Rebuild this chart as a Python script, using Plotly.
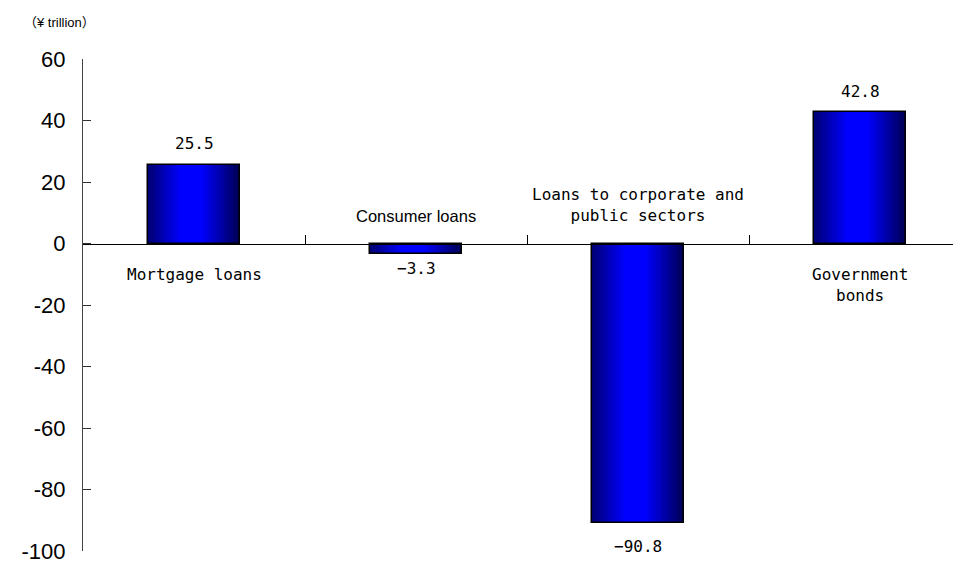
import plotly.graph_objects as go

categories = ["Mortgage loans", "Consumer loans", "Loans to corporate and<br>public sectors", "Government<br>bonds"]
values = [25.5, -3.3, -90.8, 42.8]
value_labels = ["25.5", "−3.3", "−90.8", "42.8"]
y_tickvals = [60, 40, 20, 0, -20, -40, -60, -80, -100]
y_ticktext = ["60", "40", "20", "0", "-20", "-40", "-60", "-80", "-100"]
unit_label = "（¥ trillion）"

# style settings
BAR_W = 0.414
N_SLICES = 40
MONO = "DejaVu Sans Mono"
SANS = "Liberation Sans, Arial"
cat_fonts = [MONO, SANS, MONO, MONO]
cat_sizes = [16, 16.5, 16, 16]
value_shift = [22, -15, -24, 20]

x = list(range(len(categories)))


def shade(t):
    peak_l, peak_r = 0.36, 0.58
    lo_l, lo_r = 0.45, 0.32
    if t < peak_l:
        b = lo_l + (1 - lo_l) * (t / peak_l)
    elif t <= peak_r:
        b = 1.0
    else:
        b = 1.0 - (1 - lo_r) * ((t - peak_r) / (1 - peak_r))
    return f"rgb(0,0,{int(round(255 * b))})"


fig = go.Figure()
sw = BAR_W / N_SLICES
for i in range(N_SLICES):
    t = (i + 0.5) / N_SLICES
    fig.add_trace(go.Bar(
        x=x, y=values, width=sw * 1.05, offset=-BAR_W / 2 + i * sw,
        marker=dict(color=shade(t), line=dict(width=0)),
        hoverinfo="skip", showlegend=False,
    ))
# outline
fig.add_trace(go.Bar(
    x=x, y=values, width=BAR_W, offset=-BAR_W / 2,
    marker=dict(color="rgba(0,0,0,0)", line=dict(color="black", width=1.5)),
    showlegend=False,
))

# value labels
for xi, v, lab, sh in zip(x, values, value_labels, value_shift):
    fig.add_annotation(x=xi, y=v, text=lab, showarrow=False,
                       yshift=sh, font=dict(family=MONO, size=16, color="black"))

# category labels: below zero for positive bars, above zero for negative bars
for xi, v, cat, fam, fs in zip(x, values, categories, cat_fonts, cat_sizes):
    if v >= 0:
        fig.add_annotation(x=xi, y=0, text=cat, showarrow=False, yanchor="top",
                           yshift=-19, font=dict(family=fam, size=fs, color="black"))
    else:
        fig.add_annotation(x=xi, y=0, text=cat, showarrow=False, yanchor="bottom",
                           yshift=17, font=dict(family=fam, size=fs, color="black"))

fig.add_annotation(xref="paper", yref="paper", x=-0.069, y=1.0, yshift=37,
                   text=unit_label, showarrow=False, xanchor="left", yanchor="middle",
                   font=dict(family="Liberation Sans, Noto Sans CJK JP", size=13, color="black"))

fig.update_layout(
    width=961, height=563,
    margin=dict(l=75, r=0, t=51, b=20),
    plot_bgcolor="white", paper_bgcolor="white",
    barmode="overlay", bargap=0,
    showlegend=False,
    xaxis=dict(
        range=[-0.5, 3.491], tickvals=[0.5, 1.5, 2.5], showticklabels=False,
        ticks="inside", ticklen=9, tickcolor="black", tickwidth=1,
        showline=True, linecolor="black", linewidth=1,
        showgrid=False, zeroline=False,
        anchor="free", position=100 / 160,
    ),
    yaxis=dict(
        range=[-100, 60], tickvals=y_tickvals, ticktext=y_ticktext,
        ticks="inside", ticklen=8, tickcolor="#333333", tickwidth=1,
        showline=True, linecolor="#444444", linewidth=1,
        showgrid=False, zeroline=False,
        tickfont=dict(family=SANS, size=22, color="black"),
        ticklabelstandoff=12,
    ),
)

fig.write_html("out.html")
